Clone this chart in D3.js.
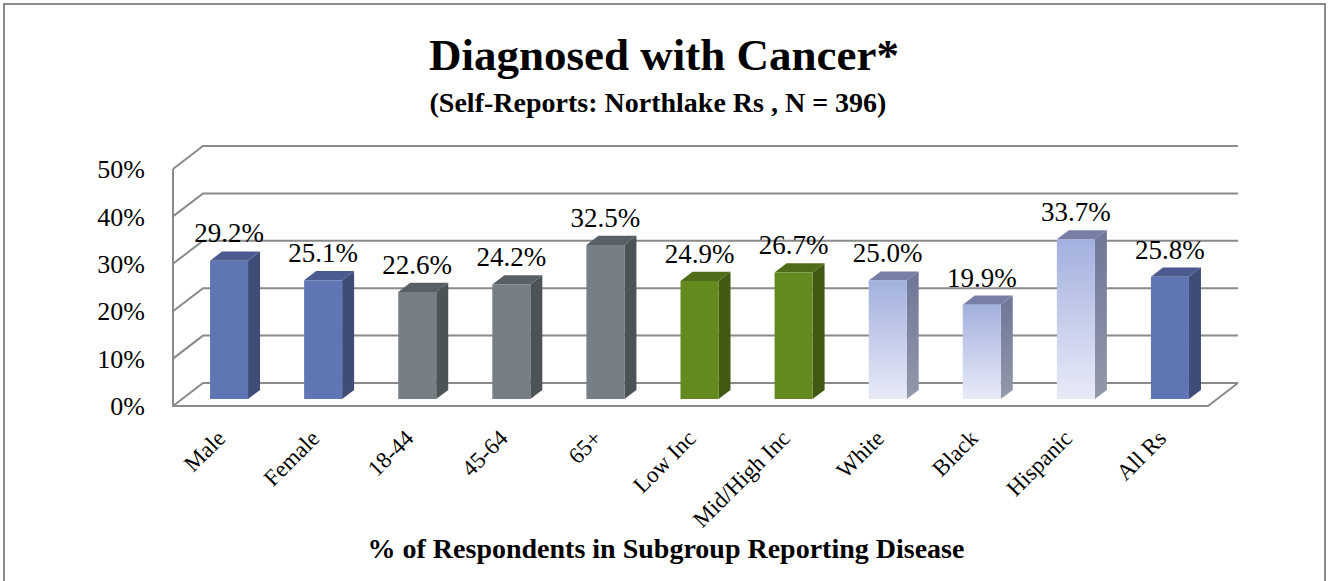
<!DOCTYPE html>
<html>
<head>
<meta charset="utf-8">
<script src="https://cdn.jsdelivr.net/npm/d3@7"></script>
<style>
  body { margin: 0; background: #fff; }
  svg text { font-family: "Liberation Serif", "Times New Roman", serif; fill: #000; }
</style>
</head>
<body>
<div id="chart"></div>
<script>
const categories = ["Male", "Female", "18-44", "45-64", "65+", "Low Inc", "Mid/High Inc", "White", "Black", "Hispanic", "All Rs"];
const values = [29.2, 25.1, 22.6, 24.2, 32.5, 24.9, 26.7, 25.0, 19.9, 33.7, 25.8];
const groups = ["sex", "sex", "age", "age", "age", "income", "income", "race", "race", "race", "all"];
const yTicks = [0, 10, 20, 30, 40, 50];

const width = 1333;
const height = 581;

// depth of the 3d box, in px
const depthX = 30;
const depthY = -23;

const colors = {
  sex:    { front: "#6076b4", side: "#3f4c78", top: "#4b5b90" },
  all:    { front: "#6076b4", side: "#3f4c78", top: "#4b5b90" },
  age:    { front: "#767e86", side: "#4b5357", top: "#586066" },
  income: { front: "#648a1f", side: "#405a14", top: "#4f6d19" },
  race:   { front: "url(#lightFront)", side: "url(#lightSide)", top: "#787fa6" }
};

const svg = d3.select('#chart')
  .append('svg')
  .attr('width', width)
  .attr('height', height)

const defs = svg.append('defs');
const g1 = defs.append('linearGradient').attr('id', 'lightFront').attr('x1', 0).attr('y1', 0).attr('x2', 0).attr('y2', 1);
g1.append('stop').attr('offset', '0%').attr('stop-color', '#a3b0df');
g1.append('stop').attr('offset', '100%').attr('stop-color', '#e8ebf7');
const g2 = defs.append('linearGradient').attr('id', 'lightSide').attr('x1', 0).attr('y1', 0).attr('x2', 0).attr('y2', 1);
g2.append('stop').attr('offset', '0%').attr('stop-color', '#6e7698');
g2.append('stop').attr('offset', '100%').attr('stop-color', '#9398aa');

// outer frame
svg.append('path')
  .attr('d', `M4,${height + 5} V4 H1325 V${height + 5}`)
  .attr('fill', 'none')
  .attr('stroke', '#8c8c8c')
  .attr('stroke-width', 2)

const xScale = d3.scaleBand()
  .domain(categories)
  .range([173, 1208])
  .padding(0)

const yScale = d3.scaleLinear()
  .domain([0, 50])
  .range([406, 169])

const proj = (x, y, d) => [x + d * depthX, y + d * depthY];
const pts = (arr) => "M" + arr.map(p => p.join(",")).join("L") + "Z";

// gridlines + walls
const grid = svg.append('g').attr('stroke', '#8a8a8a').attr('stroke-width', 2).attr('fill', 'none');
yTicks.forEach(t => {
  const y = yScale(t);
  grid.append('path')
    .attr('d', `M${173},${y}L${173 + depthX},${y + depthY}H${1208 + depthX}`)
})
grid.append('path')
  .attr('d', `M173,${yScale(50)}V${yScale(0)}H1208L${1208 + depthX},${yScale(0) + depthY}`)

// y axis labels
svg.append('g')
  .selectAll('text')
  .data(yTicks)
  .join('text')
  .attr('x', 145)
  .attr('y', d => yScale(d))
  .attr('dy', '0.35em')
  .attr('text-anchor', 'end')
  .style('font-size', '26px')
  .text(d => d + '%')

// bars
const barW = 38;
const dFront = 0.3, dBack = 0.7;
const bars = svg.append('g');
categories.forEach((c, i) => {
  const x0 = xScale(c) + (xScale.bandwidth() - barW) / 2;
  const x1 = x0 + barW;
  const yb = yScale(0);
  const yt = yScale(values[i]);
  const col = colors[groups[i]];
  const g = bars.append('g');
  const fa = proj(x0, yt, dFront), fb = proj(x1, yt, dFront), fc = proj(x1, yb, dFront), fd = proj(x0, yb, dFront);
  const ba = proj(x0, yt, dBack), bb = proj(x1, yt, dBack), bc = proj(x1, yb, dBack);
  g.append('path').attr('d', pts([fb, bb, bc, fc])).attr('fill', col.side);
  g.append('path').attr('d', pts([fa, ba, bb, fb])).attr('fill', col.top);
  g.append('path').attr('d', pts([fa, fb, fc, fd])).attr('fill', col.front);

  // value label
  svg.append('text')
    .attr('x', (fa[0] + fb[0]) / 2)
    .attr('y', ba[1] - 9)
    .attr('text-anchor', 'middle')
    .style('font-size', '27px')
    .text(values[i].toFixed(1) + '%')

  // category label
  const cx = (fa[0] + fb[0]) / 2 - 8;
  svg.append('text')
    .attr('transform', `translate(${cx},434) rotate(-45)`)
    .attr('text-anchor', 'end')
    .attr('dy', '0.35em')
    .style('font-size', '23px')
    .text(c)
})

// titles
svg.append('text')
  .attr('x', 664).attr('y', 70)
  .attr('text-anchor', 'middle')
  .style('font-size', '45px').style('font-weight', 'bold')
  .text('Diagnosed with Cancer*')

svg.append('text')
  .attr('x', 658).attr('y', 112)
  .attr('text-anchor', 'middle')
  .style('font-size', '28px').style('font-weight', 'bold')
  .text('(Self-Reports: Northlake Rs , N = 396)')

svg.append('text')
  .attr('x', 666).attr('y', 558)
  .attr('text-anchor', 'middle')
  .style('font-size', '28px').style('font-weight', 'bold')
  .text('% of Respondents in Subgroup Reporting Disease')
</script>
</body>
</html>
